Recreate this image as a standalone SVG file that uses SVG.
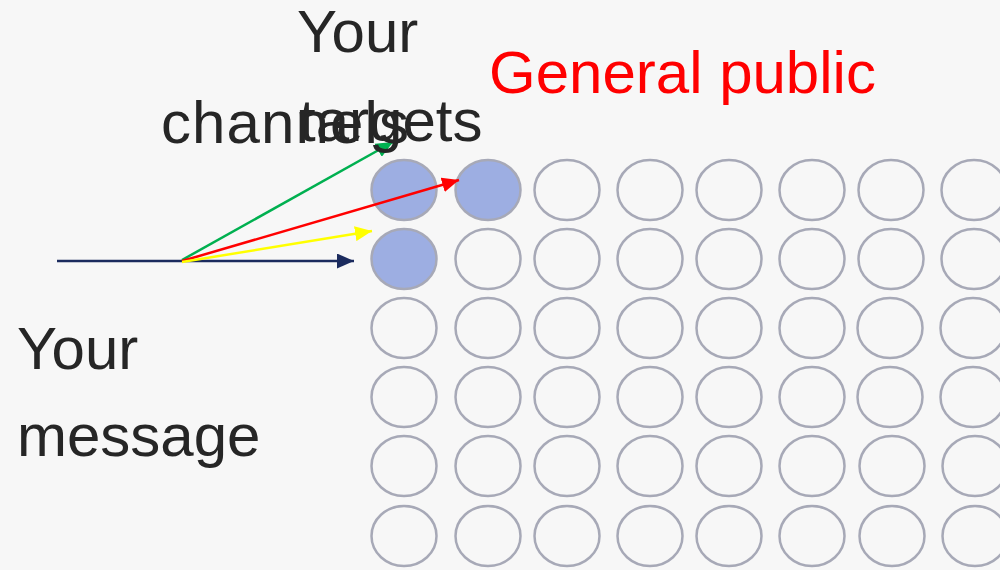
<svg xmlns="http://www.w3.org/2000/svg" width="1000" height="570" viewBox="0 0 1000 570">
<style>
.t{font-family:"Liberation Sans",Arial,sans-serif;font-size:60px;fill:#262626}
.c{fill:none;stroke:#a7a9b7;stroke-width:2.5}
.f{fill:#9daee2;stroke:#a7a9b7;stroke-width:2.5}
.a{fill:none;stroke-width:2.5}
</style>
<defs>
<marker id="mn" markerWidth="17" markerHeight="15" refX="17" refY="7.5" orient="auto" markerUnits="userSpaceOnUse"><path d="M0,0L17,7.5L0,15z" fill="#1b2b5e"/></marker>
<marker id="mg" markerWidth="17" markerHeight="15" refX="17" refY="7.5" orient="auto" markerUnits="userSpaceOnUse"><path d="M0,0L17,7.5L0,15z" fill="#00b050"/></marker>
<marker id="mr" markerWidth="17" markerHeight="15" refX="17" refY="7.5" orient="auto" markerUnits="userSpaceOnUse"><path d="M0,0L17,7.5L0,15z" fill="#ff0000"/></marker>
<marker id="my" markerWidth="17" markerHeight="15" refX="17" refY="7.5" orient="auto" markerUnits="userSpaceOnUse"><path d="M0,0L17,7.5L0,15z" fill="#ffff00"/></marker>
</defs>
<rect width="1000" height="570" fill="#f7f7f7"/>
<g id="grid">
<g id="row1">
<ellipse class="f" cx="404" cy="190" rx="32.5" ry="30"/>
<ellipse class="f" cx="488" cy="190" rx="32.5" ry="30"/>
<ellipse class="c" cx="567" cy="190" rx="32.5" ry="30"/>
<ellipse class="c" cx="650" cy="190" rx="32.5" ry="30"/>
<ellipse class="c" cx="729" cy="190" rx="32.5" ry="30"/>
<ellipse class="c" cx="812" cy="190" rx="32.5" ry="30"/>
<ellipse class="c" cx="891" cy="190" rx="32.5" ry="30"/>
<ellipse class="c" cx="974" cy="190" rx="32.5" ry="30"/>
</g>
<g id="row2">
<ellipse class="f" cx="404" cy="259" rx="32.5" ry="30"/>
<ellipse class="c" cx="488" cy="259" rx="32.5" ry="30"/>
<ellipse class="c" cx="567" cy="259" rx="32.5" ry="30"/>
<ellipse class="c" cx="650" cy="259" rx="32.5" ry="30"/>
<ellipse class="c" cx="729" cy="259" rx="32.5" ry="30"/>
<ellipse class="c" cx="812" cy="259" rx="32.5" ry="30"/>
<ellipse class="c" cx="891" cy="259" rx="32.5" ry="30"/>
<ellipse class="c" cx="974" cy="259" rx="32.5" ry="30"/>
</g>
<g id="row3">
<ellipse class="c" cx="404" cy="328" rx="32.5" ry="30"/>
<ellipse class="c" cx="488" cy="328" rx="32.5" ry="30"/>
<ellipse class="c" cx="567" cy="328" rx="32.5" ry="30"/>
<ellipse class="c" cx="650" cy="328" rx="32.5" ry="30"/>
<ellipse class="c" cx="729" cy="328" rx="32.5" ry="30"/>
<ellipse class="c" cx="812" cy="328" rx="32.5" ry="30"/>
<ellipse class="c" cx="890" cy="328" rx="32.5" ry="30"/>
<ellipse class="c" cx="973" cy="328" rx="32.5" ry="30"/>
</g>
<g id="row4">
<ellipse class="c" cx="404" cy="397" rx="32.5" ry="30"/>
<ellipse class="c" cx="488" cy="397" rx="32.5" ry="30"/>
<ellipse class="c" cx="567" cy="397" rx="32.5" ry="30"/>
<ellipse class="c" cx="650" cy="397" rx="32.5" ry="30"/>
<ellipse class="c" cx="729" cy="397" rx="32.5" ry="30"/>
<ellipse class="c" cx="812" cy="397" rx="32.5" ry="30"/>
<ellipse class="c" cx="890" cy="397" rx="32.5" ry="30"/>
<ellipse class="c" cx="973" cy="397" rx="32.5" ry="30"/>
</g>
<g id="row5">
<ellipse class="c" cx="404" cy="466" rx="32.5" ry="30"/>
<ellipse class="c" cx="488" cy="466" rx="32.5" ry="30"/>
<ellipse class="c" cx="567" cy="466" rx="32.5" ry="30"/>
<ellipse class="c" cx="650" cy="466" rx="32.5" ry="30"/>
<ellipse class="c" cx="729" cy="466" rx="32.5" ry="30"/>
<ellipse class="c" cx="812" cy="466" rx="32.5" ry="30"/>
<ellipse class="c" cx="892" cy="466" rx="32.5" ry="30"/>
<ellipse class="c" cx="975" cy="466" rx="32.5" ry="30"/>
</g>
<g id="row6">
<ellipse class="c" cx="404" cy="536" rx="32.5" ry="30"/>
<ellipse class="c" cx="488" cy="536" rx="32.5" ry="30"/>
<ellipse class="c" cx="567" cy="536" rx="32.5" ry="30"/>
<ellipse class="c" cx="650" cy="536" rx="32.5" ry="30"/>
<ellipse class="c" cx="729" cy="536" rx="32.5" ry="30"/>
<ellipse class="c" cx="812" cy="536" rx="32.5" ry="30"/>
<ellipse class="c" cx="892" cy="536" rx="32.5" ry="30"/>
<ellipse class="c" cx="975" cy="536" rx="32.5" ry="30"/>
</g>
</g>
<g id="connectors">
<line class="a" x1="57" y1="261" x2="354" y2="261" stroke="#1b2b5e" marker-end="url(#mn)"/>
<line class="a" x1="182" y1="260" x2="393" y2="142" stroke="#00b050" marker-end="url(#mg)"/>
<line class="a" x1="182" y1="261" x2="459" y2="180" stroke="#ff0000" marker-end="url(#mr)"/>
<line class="a" x1="182" y1="262" x2="372" y2="231" stroke="#ffff00" marker-end="url(#my)"/>
</g>
<g id="labels">
<text class="t" x="297" y="52">Your</text>
<text class="t" x="299" y="141">targets</text>
<text class="t" x="161" y="143" textLength="248" lengthAdjust="spacing">channels</text>
<text class="t" x="17" y="369">Your</text>
<text class="t" x="17" y="456">message</text>
<text class="t" x="489" y="93" style="fill:#ff0000">General public</text>
</g>
</svg>
